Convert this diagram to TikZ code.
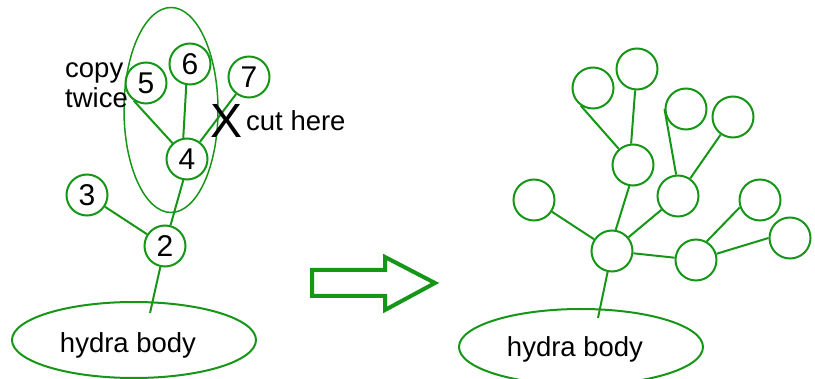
\documentclass[tikz,border=0pt]{standalone}
\usepackage{fontspec}
\setmainfont{Liberation Sans}
\usetikzlibrary{shapes.geometric}

\definecolor{hydragreen}{RGB}{22,150,22}

\tikzset{
  knot/.style={circle, draw=hydragreen, line width=2pt, minimum size=41pt, inner sep=0pt,
    font=\fontsize{30}{30}\selectfont},
  body/.style={ellipse, draw=hydragreen, line width=2pt, minimum width=244pt, minimum height=76pt, inner sep=0pt},
  stem/.style={draw=hydragreen, line width=2pt},
  word/.style={font=\fontsize{27.5}{27.5}\selectfont, inner sep=0pt}
}

\begin{document}
\begin{tikzpicture}[x=1pt, y=-1pt]
    \useasboundingbox (0,0) rectangle (815,379);

    % Left hydra: the numbered tree
    \node[body] (lbody) at (134,340) {};
    \node[word, anchor=base] (ltxt) at (128,353) {hydra body};

    \node[knot] (n2) at (165,246) {2};
    \node[knot] (n3) at (87,195) {3};
    \node[knot] (n4) at (187,159) {4};
    \node[knot] (n5) at (146,83) {5};
    \node[knot] (n6) at (190,64) {6};
    \node[knot] (n7) at (249,77) {7};

    % ring around the part to be copied
    \node[ellipse, draw=hydragreen, line width=1.5pt, minimum width=94pt, minimum height=205pt] (copyring) at (171,110) {};

    \coordinate (lroot) at (150,313);
    \draw[stem] (n2) -- (lroot);
    \draw[stem] (n2) -- (n3);
    \draw[stem] (n2.75) -- (n4.260);
    \draw[stem] (n4) -- (n5.235);
    \draw[stem] (n4.100) -- (n6.260);
    \draw[stem] (n4) -- (n7);

    % labels
    \node[word, anchor=base west] (copy) at (65,78) {copy};
    \node[word, anchor=base west] (twice) at (65,108) {twice};
    \node[font=\fontsize{48}{48}\selectfont, inner sep=0pt] (cut) at (227,121) {X};
    \node[word, anchor=base west] (cuthere) at (246,131) {cut here};

    % Arrow between the two hydras
    \draw[draw=hydragreen, line width=4pt, line join=miter]
      (312,270) -- (385,270) -- (385,257) -- (435,283) -- (385,310) -- (385,296) -- (312,296) -- cycle;

    % Right hydra: after the copies have grown
    \node[body] (rbody) at (581,347) {};
    \node[word, anchor=base] (rtxt) at (575,357) {hydra body};

    \node[knot] (r) at (612,251) {};
    \node[knot] (a) at (534,200) {};
    \node[knot] (b) at (633,165) {};
    \node[knot] (c) at (593,88) {};
    \node[knot] (d) at (637,69) {};
    \node[knot] (e) at (678,196) {};
    \node[knot] (f) at (686,109) {};
    \node[knot] (g) at (733,117) {};
    \node[knot] (h) at (696,260) {};
    \node[knot] (i) at (760,200) {};
    \node[knot] (j) at (790,238) {};

    \coordinate (rroot) at (598,318);
    \draw[stem] (r) -- (rroot);
    \draw[stem] (r) -- (a);
    \draw[stem] (r.80) -- (b.260);
    \draw[stem] (r) -- (e);
    \draw[stem] (r) -- (h);
    \draw[stem] (b) -- (c.235);
    \draw[stem] (b.95) -- (d.265);
    \draw[stem] (e.95) -- (f.west);
    \draw[stem] (e) -- (g.235);
    \draw[stem] (h.60) -- (i.200);
    \draw[stem] (h) -- (j.west);
\end{tikzpicture}
\end{document}
